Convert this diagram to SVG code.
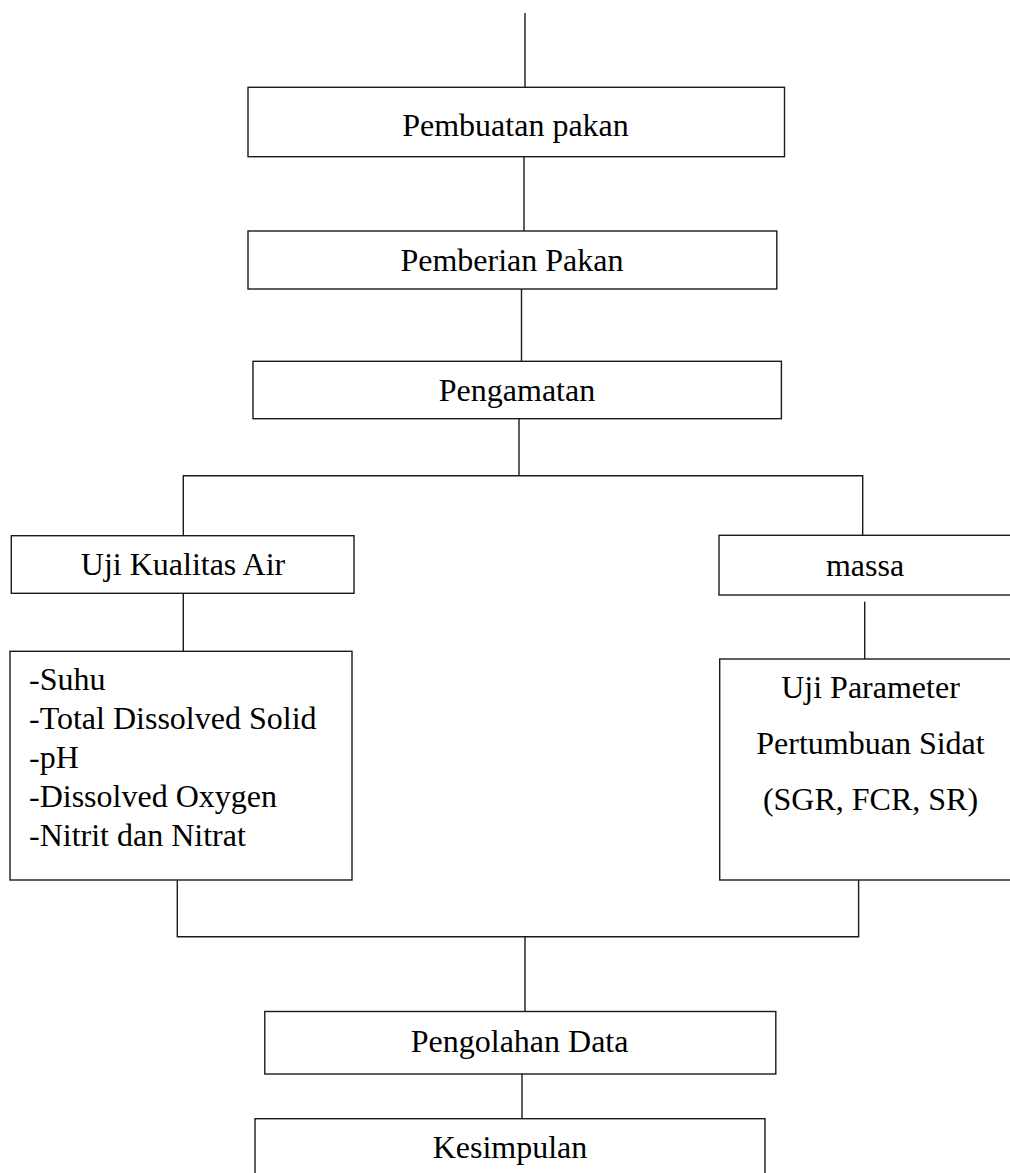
<svg xmlns="http://www.w3.org/2000/svg" width="1010" height="1173" viewBox="0 0 1010 1173">
<style>
.box{fill:#fff;stroke:#1a1a1a;stroke-width:1.4}
.ln{fill:none;stroke:#1a1a1a;stroke-width:1.4}
text{font-family:"Liberation Serif","Times New Roman",serif;font-size:32px;fill:#000}
.c{text-anchor:middle}
</style>
<rect width="1010" height="1173" fill="#fff"/>
<g id="connectors">
<line class="ln" x1="525" y1="13" x2="525" y2="87.3"/>
<line class="ln" x1="524" y1="156.7" x2="524" y2="231"/>
<line class="ln" x1="521.5" y1="289" x2="521.5" y2="361.3"/>
<line class="ln" x1="519" y1="418.7" x2="519" y2="475.7"/>
<polyline class="ln" points="183.3,535.7 183.3,475.7 862.7,475.7 862.7,535.3"/>
<line class="ln" x1="183.3" y1="593.3" x2="183.3" y2="651.3"/>
<line class="ln" x1="864.7" y1="601.7" x2="864.7" y2="659"/>
<polyline class="ln" points="177.3,880 177.3,936.7 858.6,936.7 858.6,878"/>
<line class="ln" x1="525" y1="936.7" x2="525" y2="1011.5"/>
<line class="ln" x1="522" y1="1074" x2="522" y2="1118.7"/>
</g>
<g id="n-pembuatan">
<rect class="box" x="248" y="87.3" width="536.5" height="69.4"/>
<text class="c" x="515.5" y="136">Pembuatan pakan</text>
</g>
<g id="n-pemberian">
<rect class="box" x="248" y="231" width="528.8" height="58"/>
<text class="c" x="512" y="270.5">Pemberian Pakan</text>
</g>
<g id="n-pengamatan">
<rect class="box" x="253" y="361.3" width="528.4" height="57.4"/>
<text class="c" x="517" y="400.5">Pengamatan</text>
</g>
<g id="n-uji-air">
<rect class="box" x="11.3" y="535.7" width="342.7" height="57.6"/>
<text class="c" x="183" y="575">Uji Kualitas Air</text>
</g>
<g id="n-massa">
<rect class="box" x="719" y="535.3" width="300" height="59.7"/>
<text class="c" x="865" y="575.5">massa</text>
</g>
<g id="n-parameter-air">
<rect class="box" x="10" y="651.3" width="342" height="228.7"/>
<text x="29" y="690">-Suhu</text>
<text x="29" y="729">-Total Dissolved Solid</text>
<text x="29" y="768">-pH</text>
<text x="29" y="807">-Dissolved Oxygen</text>
<text x="29" y="846">-Nitrit dan Nitrat</text>
</g>
<g id="n-parameter-sidat">
<rect class="box" x="719.7" y="659" width="300" height="221"/>
<text class="c" x="870.5" y="698">Uji Parameter</text>
<text class="c" x="870.5" y="754">Pertumbuan Sidat</text>
<text class="c" x="870.5" y="810">(SGR, FCR, SR)</text>
</g>
<g id="n-pengolahan">
<rect class="box" x="264.8" y="1011.5" width="511" height="62.5"/>
<text class="c" x="519.6" y="1052">Pengolahan Data</text>
</g>
<g id="n-kesimpulan">
<rect class="box" x="255" y="1118.7" width="510" height="70"/>
<text class="c" x="510" y="1158">Kesimpulan</text>
</g>
</svg>
